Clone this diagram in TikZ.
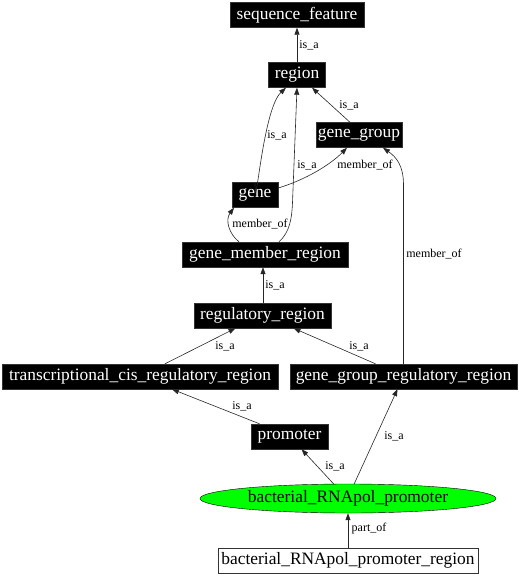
\documentclass[tikz,border=0pt]{standalone}
\usepackage{fontspec}
\setmainfont{Liberation Serif}
\usetikzlibrary{arrows.meta,shapes.geometric}
\begin{document}
\begin{tikzpicture}[x=1pt,y=-1pt,
  blk/.style={rectangle,fill=black,draw=black!80,text=white,inner sep=0pt,minimum height=25pt,font=\fontsize{17.4}{17.4}\selectfont},
  wht/.style={rectangle,fill=white,draw=black!80,text=black,inner sep=0pt,minimum height=25pt,font=\fontsize{17.4}{17.4}\selectfont},
  ell/.style={ellipse,fill={rgb,255:red,0;green,255;blue,0},draw=black,inner sep=0pt,minimum height=29pt,font=\fontsize{17.4}{17.4}\selectfont},
  edge/.style={draw=black!85,line width=0.6pt,-{Triangle[length=7pt,width=5pt]}},
  lbl/.style={font=\fontsize{12}{12}\selectfont,inner sep=0pt}]
\useasboundingbox (0,0) rectangle (519,576);
\node[blk,minimum width=134pt] (seq) at (297,15) {sequence\_feature};
\node[blk,minimum width=57pt] (region) at (297,75) {region};
\node[blk,minimum width=86pt] (gg) at (359,135) {gene\_group};
\node[blk,minimum width=46pt] (gene) at (255,195) {gene};
\node[blk,minimum width=166pt] (gmr) at (265,254.5) {gene\_member\_region};
\node[blk,minimum width=137pt] (reg) at (262.5,315.5) {regulatory\_region};
\node[blk,minimum width=276pt] (trans) at (140,376.5) {transcriptional\_cis\_regulatory\_region};
\node[blk,minimum width=227pt] (ggrr) at (403.5,376.5) {gene\_group\_regulatory\_region};
\node[blk,minimum width=77pt] (prom) at (289.5,436.5) {promoter};
\node[ell,minimum width=296pt] (bact) at (348,498.5) {bacterial\_RNApol\_promoter};
\node[wht,minimum width=260pt] (bactr) at (348,560.5) {bacterial\_RNApol\_promoter\_region};

\draw[edge] (region.north) -- (seq.south);
\node[lbl] (l1) at (309,45) {is\_a};
\draw[edge] ([xshift=-9pt]gg.north) -- ([xshift=15pt]region.south);
\node[lbl] (l2) at (349,105) {is\_a};
\draw[edge] (gene.north) .. controls ([yshift=-45pt]gene.north) and (262,110) .. ([xshift=-11pt]region.south);
\node[lbl] (l3) at (277,135) {is\_a};
\draw[edge] ([xshift=14pt]gmr.north) .. controls (290,232) and (292,218) .. (292.6,200) -- (region.south);
\node[lbl] (l4) at (307,165) {is\_a};
\draw[edge] ([yshift=7pt]gene.east) .. controls (305,180) and (330,165) .. ([xshift=-12pt]gg.south);
\node[lbl] (l5) at (365,165) {member\_of};
\draw[edge] ([xshift=-26pt]gmr.north) .. controls (229,234) and (225,220) .. ([xshift=-21pt]gene.south);
\node[lbl] (l6) at (260,224) {member\_of};
\draw[edge] ([xshift=0.5pt]reg.north) -- ([xshift=-2pt]gmr.south);
\node[lbl] (l7) at (275,285) {is\_a};
\draw[edge] (ggrr.north) -- (403.5,185) .. controls (403.5,165) and (396,157) .. ([xshift=24pt]gg.south);
\node[lbl] (l8) at (434,254) {member\_of};
\draw[edge] ([xshift=25pt]trans.north) -- ([xshift=-27pt]reg.south);
\node[lbl] (l9) at (225,346) {is\_a};
\draw[edge] ([xshift=-28pt]ggrr.north) -- ([xshift=31pt]reg.south);
\node[lbl] (l10) at (359,346) {is\_a};
\draw[edge] ([xshift=-30pt]prom.north) -- ([xshift=32pt]trans.south);
\node[lbl] (l11) at (242,406) {is\_a};
\draw[edge] ([xshift=-14pt,yshift=-0.5pt]bact.north) -- ([xshift=12pt]prom.south);
\node[lbl] (l12) at (335,466) {is\_a};
\draw[edge] ([xshift=6pt,yshift=-0.5pt]bact.north) -- ([xshift=-6pt]ggrr.south);
\node[lbl] (l13) at (394,436) {is\_a};
\draw[edge] (bactr.north) -- (bact.south);
\node[lbl] (l14) at (369,529) {part\_of};
\end{tikzpicture}
\end{document}
